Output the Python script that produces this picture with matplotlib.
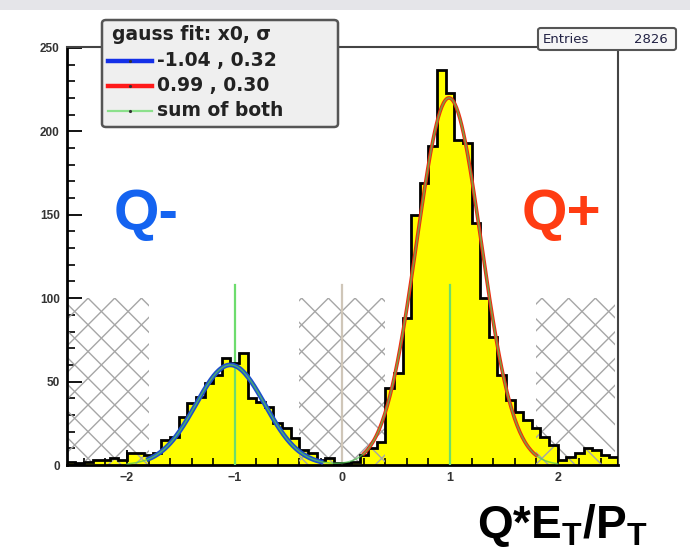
import numpy as np
import matplotlib
matplotlib.use("Agg")
import matplotlib.pyplot as plt
from matplotlib import font_manager as fm
from matplotlib.patches import Rectangle, FancyBboxPatch
from matplotlib.lines import Line2D
from matplotlib.ticker import MultipleLocator

# histogram of Q*ET/PT, 64 bins from -2.56 to 2.56
bin_edges = np.linspace(-2.56, 2.56, 65)
counts = [2, 1, 2, 3, 3, 4, 3, 7, 7, 6, 7,
          15, 17, 29, 37, 41, 49, 54, 64, 61, 67, 40, 38, 35, 25, 22, 16,
          9, 7, 3, 4, 1, 1, 2, 6, 10, 14,
          46, 55, 88, 150, 169, 191, 237, 223, 195, 193, 145, 100, 77, 54, 39,
          32, 27, 22, 17, 12, 3, 5, 7, 10, 9, 6, 5]
n_entries = 2826

# gauss fits: amplitude, x0, sigma
fit_neg = (60.0, -1.04, 0.32)
fit_pos = (220.0, 0.99, 0.30)
fit_neg_range = (-1.8, -0.2)
fit_pos_range = (0.2, 1.8)
sum_range = (-2.0, 2.0)

# hatched (excluded) regions and marker lines
veto_regions = [(-2.56, -1.8), (-0.4, 0.4), (1.8, 2.53)]
veto_height = 100
marker_x = [-1.0, 0.0, 1.0]
marker_colors = ["#6ddc6d", "#cfc6b8", "#6ddc6d"]
marker_top = 108

legend_title = "gauss fit: x0, \u03c3"
legend_labels = ["-1.04 , 0.32", "0.99 , 0.30", "sum of both"]
legend_colors = ["#1430e8", "#ff1a1a", "#8be08b"]

W, H = 690, 550
names = {f.name for f in fm.fontManager.ttflist}
narrow = "Liberation Sans Narrow" if "Liberation Sans Narrow" in names else "Liberation Sans"
plt.rcParams["mathtext.fontset"] = "custom"
plt.rcParams["mathtext.bf"] = narrow + ":bold"
plt.rcParams["mathtext.rm"] = narrow


def gauss(x, a, m, s):
    return a * np.exp(-0.5 * ((x - m) / s) ** 2)


def fpos(x, y):
    return x / W, 1 - y / H


fig = plt.figure(figsize=(W / 100, H / 100), dpi=100)
fig.patch.set_facecolor("white")
fig.add_artist(Rectangle((0, 1 - 10 / H), 1, 10 / H, transform=fig.transFigure,
                         fc="#e5e5e9", ec="none", zorder=0))

ax_l, ax_r, ax_t, ax_b = 66.7, 618, 47, 465
ax = fig.add_axes([ax_l / W, 1 - ax_b / H, (ax_r - ax_l) / W, (ax_b - ax_t) / H])
xmin, xmax, ymin, ymax = -2.56, 2.56, 0, 250.5
ax.set_xlim(xmin, xmax)
ax.set_ylim(ymin, ymax)

# histogram
ax.stairs(counts, bin_edges, fill=True, color="#ffff00", zorder=1)
ax.stairs(counts, bin_edges, color="black", lw=2.0, zorder=4)

# hatched regions, 45 degree lines in pixel space
px_per_x = (ax_r - ax_l) / (xmax - xmin)
px_per_y = (ax_b - ax_t) / (ymax - ymin)
slope = px_per_x / px_per_y
step = 26.7 / px_per_x
for x0, x1 in veto_regions:
    clip = Rectangle((x0, 0), x1 - x0, veto_height, fc="none", ec="none")
    ax.add_patch(clip)
    for n in range(-14, 16):
        xc = -0.378 + n * step
        xs = np.array([xc - 1.8, xc + 1.8])
        for sgn in (1, -1):
            ln, = ax.plot(xs, veto_height + sgn * slope * (xs - xc),
                          color="#a6a6a6", lw=1.0, zorder=2)
            ln.set_clip_path(clip)

for xm, c in zip(marker_x, marker_colors):
    ax.plot([xm, xm], [0, marker_top], color=c, lw=1.6, zorder=3)

# fits
xn = np.linspace(*fit_neg_range, 200)
xp = np.linspace(*fit_pos_range, 200)
xs_sum = np.linspace(*sum_range, 400)
ax.plot(xn, gauss(xn, *fit_neg), color="#1e50cc", lw=3.4, zorder=5)
ax.plot(xp, gauss(xp, *fit_pos), color="#f02a10", lw=2.6, zorder=5)
ax.plot(xs_sum, gauss(xs_sum, *fit_neg) + gauss(xs_sum, *fit_pos),
        color="#55c855", lw=1.1, alpha=0.75, zorder=6)

# axes style
for side in ("left", "bottom"):
    ax.spines[side].set_linewidth(2.0)
    ax.spines[side].set_color("black")
for side in ("right", "top"):
    ax.spines[side].set_linewidth(1.5)
    ax.spines[side].set_color("#444444")
ax.set_xticks([-2, -1, 0, 1, 2])
ax.set_yticks([0, 50, 100, 150, 200, 250])
ax.xaxis.set_minor_locator(MultipleLocator(0.2))
ax.yaxis.set_minor_locator(MultipleLocator(10))
ax.tick_params(axis="x", which="major", direction="in", length=11, width=1.3,
               pad=5, labelsize=9, labelcolor="#333333")
ax.tick_params(axis="x", which="minor", direction="in", length=5, width=1.2)
ax.tick_params(axis="y", which="major", direction="in", length=11, width=1.3,
               pad=5, labelsize=8.5, labelcolor="#333333")
ax.tick_params(axis="y", which="minor", direction="in", length=6, width=1.2)
for lab in ax.get_xticklabels() + ax.get_yticklabels():
    lab.set_fontfamily(["Liberation Sans", "DejaVu Sans"])
    lab.set_fontweight("bold")

# Q- / Q+ labels
fig.text(*fpos(114, 230), "Q-", color="#1463f0", fontsize=42, fontweight="bold",
         family=[narrow, "DejaVu Sans"], ha="left", va="baseline")
fig.text(*fpos(522, 230), "Q+", color="#ff3c12", fontsize=42, fontweight="bold",
         family=[narrow, "DejaVu Sans"], ha="left", va="baseline")

# axis title at bottom right
fig.text(*fpos(477, 538), r"Q*E$_\mathbf{T}$/P$_\mathbf{T}$", color="black",
         fontsize=33, fontweight="bold", family=[narrow, "DejaVu Sans"],
         ha="left", va="baseline")

# legend box
fig.add_artist(FancyBboxPatch(fpos(102, 127), 236 / W, 107 / H,
                              boxstyle="round,pad=0,rounding_size=0.006",
                              transform=fig.transFigure, fc="#efefef",
                              ec="#555555", lw=1.8, zorder=5))
fig.text(*fpos(112, 34), legend_title, fontsize=13.5, fontweight="bold",
         color="#222222", ha="left", va="center", zorder=6)
for i, (lab, c) in enumerate(zip(legend_labels, legend_colors)):
    yy = [60.5, 86, 110.5][i]
    lw = 3.2 if i < 2 else 1.6
    fig.add_artist(Line2D([108 / W, 152 / W], [1 - yy / H] * 2, color=c, lw=lw,
                          transform=fig.transFigure, zorder=6))
    fig.add_artist(Line2D([130 / W], [1 - yy / H], marker=".", ms=2.5, color="#333333",
                          transform=fig.transFigure, zorder=7))
    fig.text(*fpos(157, yy), lab, fontsize=13.5, fontweight="bold",
             color="#222222", ha="left", va="center", zorder=6)

# statistics box
fig.add_artist(FancyBboxPatch(fpos(538, 50), 138 / W, 22 / H,
                              boxstyle="round,pad=0,rounding_size=0.004",
                              transform=fig.transFigure, fc="#f6f6f6",
                              ec="#555555", lw=1.5, zorder=5))
fig.text(*fpos(543, 39.5), "Entries", fontsize=9.5, color="#222244",
         ha="left", va="center", zorder=6)
fig.text(*fpos(668, 39.5), str(n_entries), fontsize=9.5, color="#222244",
         ha="right", va="center", zorder=6)

fig.savefig("out.png", dpi=100)
